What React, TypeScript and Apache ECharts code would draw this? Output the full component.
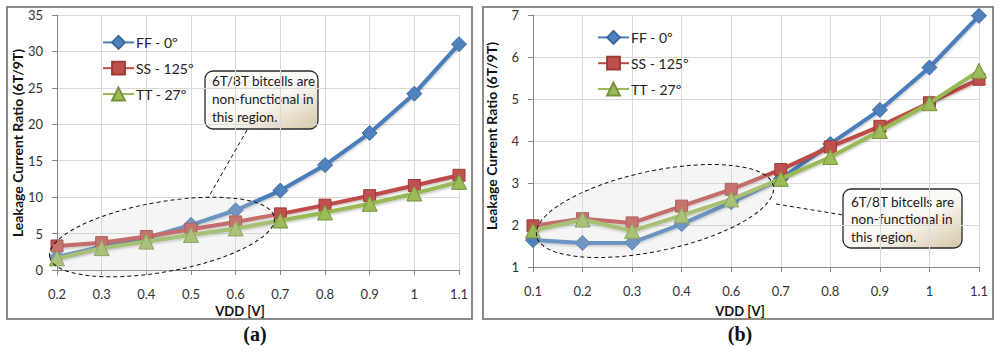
import React, { useEffect, useRef } from 'react';
import * as echarts from 'echarts';

const vddA = ['0.2', '0.3', '0.4', '0.5', '0.6', '0.7', '0.8', '0.9', '1', '1.1'];
const ffA = [1.8, 3.2, 4.4, 6.2, 8.2, 10.9, 14.4, 18.8, 24.2, 31.0];
const ssA = [3.3, 3.75, 4.6, 5.6, 6.6, 7.7, 8.9, 10.2, 11.6, 13.0];
const ttA = [1.6, 3.0, 3.9, 4.8, 5.7, 6.8, 7.9, 9.1, 10.5, 12.1];

const vddB = ['0.1', '0.2', '0.3', '0.4', '0.6', '0.7', '0.8', '0.9', '1', '1.1'];
const ffB = [1.64, 1.57, 1.58, 2.02, 2.54, 3.1, 3.93, 4.74, 5.75, 6.98];
const ssB = [1.98, 2.15, 2.05, 2.45, 2.85, 3.32, 3.86, 4.35, 4.91, 5.47];
const ttB = [1.87, 2.13, 1.86, 2.23, 2.61, 3.1, 3.62, 4.24, 4.9, 5.67];

const names = ['FF - 0º', 'SS - 125º', 'TT - 27º'];
const yTitle = 'Leakage Current Ratio (6T/9T)';
const xTitle = 'VDD [V]';
const note = '6T/8T bitcells are\nnon-functional in\nthis region.';

const FONT = 'Lato, "Open Sans", sans-serif';

const styles = [
  { line: '#4A7EBB', fill: '#4F81BD', border: '#3B6AA0', symbol: 'diamond', size: 15 },
  { line: '#BE4B48', fill: '#C0504D', border: '#9B3B38', symbol: 'rect', size: 12 },
  { line: '#98B954', fill: '#9BBB59', border: '#76923C', symbol: 'triangle', size: 15 },
];

function mkSeries(data: number[][], idx: number) {
  return data.map((d, i) => ({
    name: names[i],
    type: 'line',
    xAxisIndex: idx,
    yAxisIndex: idx,
    data: d,
    symbol: styles[i].symbol,
    symbolSize: styles[i].size,
    lineStyle: {
      color: styles[i].line,
      width: 4,
      shadowColor: 'rgba(0,0,0,0.25)',
      shadowBlur: 2,
      shadowOffsetY: 1.5,
    },
    itemStyle: { color: styles[i].fill, borderColor: styles[i].border, borderWidth: 1 },
    z: 3 + i,
  }));
}

function xAxis(cats: string[], gridIndex: number) {
  return {
    type: 'category',
    gridIndex,
    data: cats,
    boundaryGap: false,
    axisLine: { lineStyle: { color: '#868686', width: 1 } },
    axisTick: { show: true, length: 5, lineStyle: { color: '#868686' } },
    axisLabel: { margin: 17, fontFamily: FONT, fontSize: 13, color: '#333', interval: 0 },
    splitLine: { show: true, lineStyle: { color: '#d9d9d9', width: 1 } },
  };
}

function yAxis(min: number, max: number, interval: number, gridIndex: number) {
  return {
    type: 'value',
    gridIndex,
    min,
    max,
    interval,
    axisLine: { show: true, lineStyle: { color: '#868686', width: 1 } },
    axisTick: { show: true, length: 5, lineStyle: { color: '#868686' } },
    axisLabel: { margin: 14, fontFamily: FONT, fontSize: 13, color: '#333' },
    splitLine: { show: true, lineStyle: { color: '#d9d9d9', width: 1 } },
  };
}

function legend(left: number, top: number) {
  return {
    orient: 'vertical',
    left,
    top,
    itemWidth: 31,
    itemHeight: 16,
    itemGap: 11,
    data: names,
    textStyle: { fontFamily: FONT, fontSize: 14, color: '#222', padding: [0, 0, 0, -3] },
    selectedMode: false,
  };
}

function noteBox(x: number, y: number, w: number, h: number, tx: number, ty: number, lh: number) {
  return {
    type: 'group',
    z: 20,
    children: [
      {
        type: 'rect',
        shape: { x, y, width: w, height: h, r: 8 },
        style: {
          fill: new echarts.graphic.LinearGradient(0, 0, 1, 1, [
            { offset: 0, color: '#ffffff' },
            { offset: 0.55, color: '#faf8f3' },
            { offset: 1, color: '#d3c7a6' },
          ]),
          stroke: '#2a2a2a',
          lineWidth: 1.3,
        },
      },
      {
        type: 'text',
        style: {
          text: note,
          x: tx,
          y: ty,
          font: `13.5px ${FONT}`,
          fill: '#1a1a1a',
          lineHeight: lh,
          verticalAlign: 'top',
          align: 'left',
        },
      },
    ],
  };
}

function ellipse(cx: number, cy: number, rx: number, ry: number, deg: number) {
  return {
    type: 'ellipse',
    x: cx,
    y: cy,
    rotation: (deg * Math.PI) / 180,
    shape: { cx: 0, cy: 0, rx, ry },
    style: { fill: 'rgba(215,215,215,0.25)', stroke: '#111', lineWidth: 1, lineDash: [4, 3] },
    z: 15,
  };
}

function dashLine(x1: number, y1: number, x2: number, y2: number) {
  return {
    type: 'line',
    shape: { x1, y1, x2, y2 },
    style: { stroke: '#111', lineWidth: 1, lineDash: [4, 3] },
    z: 15,
  };
}

function label(text: string, x: number, y: number, font: string, rotation = 0) {
  return {
    type: 'text',
    x,
    y,
    rotation,
    style: { text, x: 0, y: 0, font, fill: '#111', align: 'center', verticalAlign: 'middle' },
    z: 20,
  };
}

export default function App() {
  const ref = useRef<HTMLDivElement>(null);
  useEffect(() => {
    document.body.style.margin = '0';
    const chart = echarts.init(ref.current!, null, { renderer: 'svg' });
    chart.setOption({
      animation: false,
      backgroundColor: '#ffffff',
      grid: [
        { left: 57, top: 15, width: 402, height: 255 },
        { left: 533, top: 15, width: 446, height: 252 },
      ],
      xAxis: [xAxis(vddA, 0), xAxis(vddB, 1)],
      yAxis: [yAxis(0, 35, 5, 0), yAxis(1, 7, 1, 1)],
      legend: [legend(97, 30), legend(592, 25)],
      series: [...mkSeries([ffA, ssA, ttA], 0), ...mkSeries([ffB, ssB, ttB], 1)],
      graphic: [
        {
          type: 'rect',
          shape: { x: 7, y: 7, width: 465, height: 312 },
          style: { fill: 'none', stroke: '#8a8a8a', lineWidth: 2 },
          z: 1,
        },
        {
          type: 'rect',
          shape: { x: 483, y: 7, width: 510, height: 312 },
          style: { fill: 'none', stroke: '#8a8a8a', lineWidth: 2 },
          z: 1,
        },
        label(yTitle, 17, 143, `bold 14px ${FONT}`, Math.PI / 2),
        label(yTitle, 491, 136, `bold 14px ${FONT}`, Math.PI / 2),
        label(xTitle, 240, 311, `bold 13px ${FONT}`),
        label(xTitle, 740, 311, `bold 13px ${FONT}`),
        label('(a)', 255, 334, 'bold 20px "Liberation Serif", "DejaVu Serif", serif'),
        label('(b)', 740, 334, 'bold 20px "Liberation Serif", "DejaVu Serif", serif'),
        ellipse(162, 237, 114, 35, 10),
        ellipse(655, 211, 121, 40, 12),
        dashLine(247, 130, 208, 198),
        dashLine(776, 204, 843, 215),
        noteBox(205, 71, 113, 58, 212, 72, 18),
        noteBox(843, 189, 119, 59, 851, 193, 17.5),
      ],
    });
    return () => chart.dispose();
  }, []);
  return <div ref={ref} style={{ width: 1000, height: 357 }} />;
}
